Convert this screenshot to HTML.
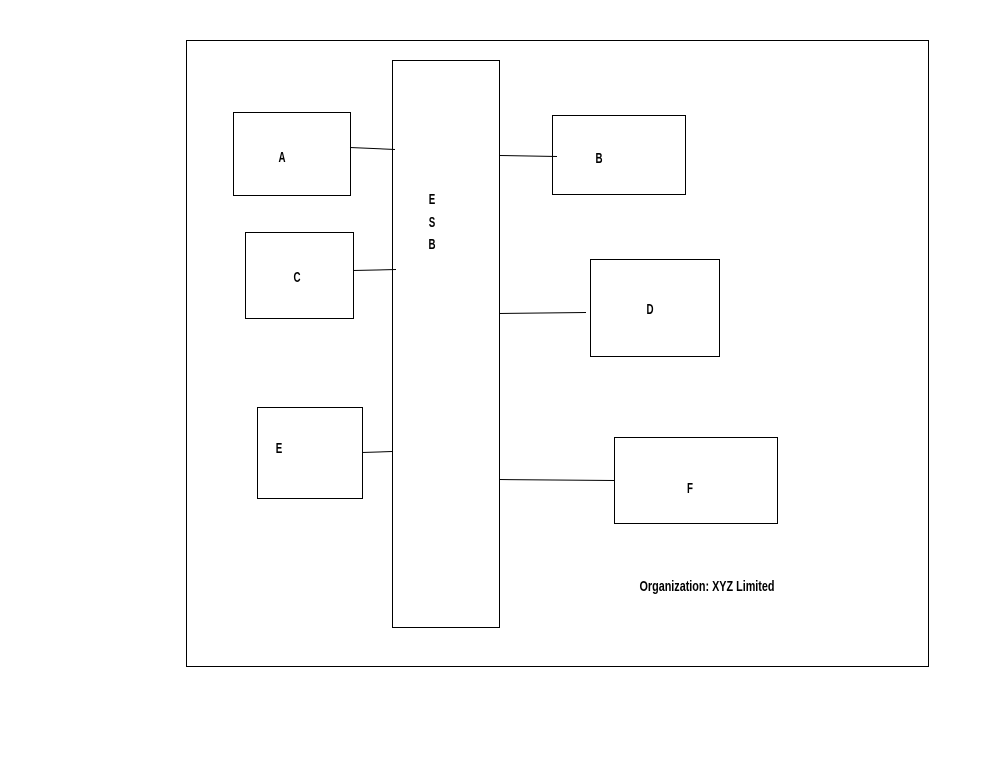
<!DOCTYPE html>
<html><head><meta charset="utf-8"><style>html,body{margin:0;padding:0;background:#fff}svg{display:block}</style></head>
<body>
<svg width="998" height="768" viewBox="0 0 998 768" xmlns="http://www.w3.org/2000/svg" font-family="Liberation Sans, sans-serif" font-size="15" fill="none" stroke="#000" stroke-width="1">
<rect x="186.5" y="40.5" width="742" height="626"/>
<rect x="392.5" y="60.5" width="107" height="567"/>
<rect x="233.5" y="112.5" width="117" height="83"/>
<rect x="552.5" y="115.5" width="133" height="79"/>
<rect x="245.5" y="232.5" width="108" height="86"/>
<rect x="590.5" y="259.5" width="129" height="97"/>
<rect x="257.5" y="407.5" width="105" height="91"/>
<rect x="614.5" y="437.5" width="163" height="86"/>
<line x1="350" y1="147.5" x2="395" y2="149.5"/>
<line x1="499" y1="155.5" x2="557" y2="156.5"/>
<line x1="353" y1="270.5" x2="396" y2="269.5"/>
<line x1="499" y1="313.5" x2="586" y2="312.5"/>
<line x1="362" y1="452.5" x2="392" y2="451.5"/>
<line x1="499" y1="479.5" x2="614" y2="480.5"/>
<g fill="#000" stroke="none" text-anchor="middle" font-weight="bold">
<text x="282" y="162" transform="translate(282 0) scale(0.65 1) translate(-282 0)">A</text>
<text x="599" y="163" transform="translate(599 0) scale(0.65 1) translate(-599 0)">B</text>
<text x="297" y="282" transform="translate(297 0) scale(0.65 1) translate(-297 0)">C</text>
<text x="650" y="314" transform="translate(650 0) scale(0.65 1) translate(-650 0)">D</text>
<text x="279" y="453" transform="translate(279 0) scale(0.65 1) translate(-279 0)">E</text>
<text x="690" y="493" transform="translate(690 0) scale(0.65 1) translate(-690 0)">F</text>
<g transform="translate(432 0) scale(0.65 1) translate(-432 0)">
<text x="432" y="204">E</text>
<text x="432" y="227">S</text>
<text x="432" y="249">B</text>
</g>
<text x="707" y="591" font-size="15" textLength="135" lengthAdjust="spacingAndGlyphs">Organization: XYZ Limited</text>
</g>
</svg>
</body></html>
